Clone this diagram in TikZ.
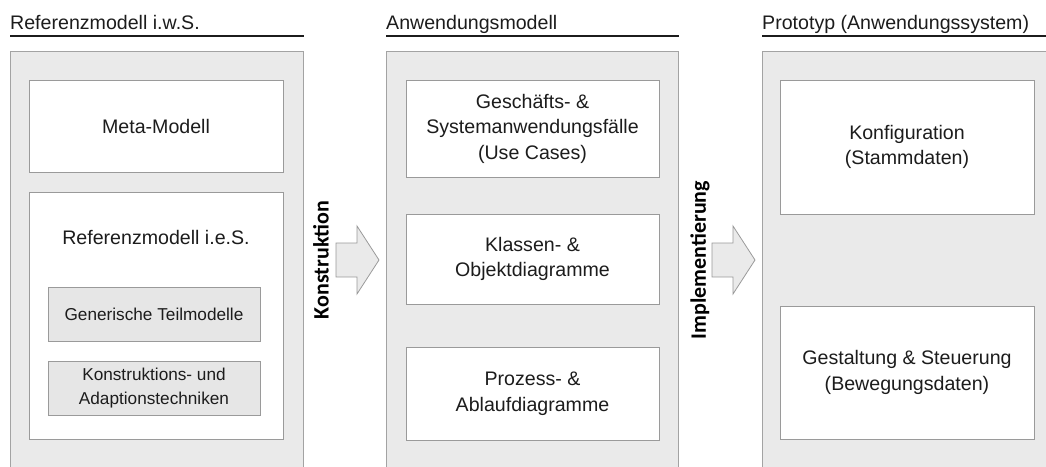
\documentclass[tikz,border=0pt]{standalone}
\usepackage{fontspec}
\setmainfont{Liberation Sans}
\newfontfamily\phasefont{Carlito}

\definecolor{panelgray}{HTML}{EAEAEA}
\definecolor{subgray}{HTML}{E6E6E6}
\definecolor{framegray}{HTML}{A3A3A3}
\definecolor{boxframe}{HTML}{9A9A9A}
\definecolor{inktext}{HTML}{1C1C1C}

\begin{document}
\begin{tikzpicture}[
    x=1pt, y=-1pt,
    panel/.style={draw=framegray, fill=panelgray, anchor=north west, inner sep=0pt, line width=0.8pt},
    box/.style={draw=boxframe, fill=white, align=center, inner sep=0pt, text=inktext, line width=0.8pt,
        font=\fontsize{19.6}{25.5}\selectfont},
    subbox/.style={box, fill=subgray, font=\fontsize{17.2}{23.5}\selectfont},
    heading/.style={anchor=base west, inner sep=0pt, text=inktext, font=\fontsize{19.6}{25}\selectfont},
    phase/.style={rotate=90, inner sep=0pt, text=black, font=\phasefont\bfseries\fontsize{22}{24}\selectfont},
    rule/.style={draw=inktext, line width=1.2pt},
    blockarrow/.style={draw=boxframe, fill=panelgray, line width=0.8pt, line join=miter}
]
    \useasboundingbox (0,0) rectangle (1046,466);

    % Panels
    \node[panel, minimum width=293pt, minimum height=440pt] (iws) at (10,51) {};
    \node[panel, minimum width=292pt, minimum height=440pt] (anw) at (386,51) {};
    \node[panel, minimum width=292pt, minimum height=440pt] (proto) at (762,51) {};

    % Headings with rules
    \node[heading] (iwstitle) at (10,29.5) {Referenzmodell i.w.S.};
    \node[heading] (anwtitle) at (386,29.5) {Anwendungsmodell};
    \node[heading] (prototitle) at (762,29.5) {Prototyp (Anwendungssystem)};
    \draw[rule] ([yshift=15pt]iws.north west) -- ([yshift=15pt]iws.north east);
    \draw[rule] ([yshift=15pt]anw.north west) -- ([yshift=15pt]anw.north east);
    \draw[rule] ([yshift=15pt]proto.north west) -- ([yshift=15pt]proto.north east);

    % Referenzmodell i.w.S.
    \node[box, minimum width=254pt, minimum height=92pt] (meta) at (156,126) {Meta-Modell};
    \node[box, minimum width=254pt, minimum height=247pt] (ies) at (156,315.5) {};
    \node[heading, anchor=base] (iestitle) at (156,244) {Referenzmodell i.e.S.};
    \node[subbox, minimum width=212pt, minimum height=54pt] (generic) at (154,314) {Generische Teilmodelle};
    \node[subbox, minimum width=212pt, minimum height=54pt] (techniques) at (154,388) {Konstruktions- und\\Adaptionstechniken};

    % Anwendungsmodell
    \node[box, minimum width=253pt, minimum height=97pt] (usecases) at (532.5,128.5) {Geschäfts- \&\\Systemanwendungsfälle\\(Use Cases)};
    \node[box, minimum width=253pt, minimum height=90pt] (classes) at (532.5,259) {Klassen- \&\\Objektdiagramme};
    \node[box, minimum width=253pt, minimum height=93pt] (processes) at (532.5,393.5) {Prozess- \&\\Ablaufdiagramme};

    % Prototyp
    \node[box, minimum width=254pt, minimum height=134pt] (config) at (907,147) {Konfiguration\\(Stammdaten)};
    \node[box, minimum width=254pt, minimum height=133pt] (control) at (907,372.5) {Gestaltung \& Steuerung\\(Bewegungsdaten)};

    % Phases between the panels
    \node[phase] (construction) at (321,260) {Konstruktion};
    \node[phase] (implementation) at (700,260) {Implementierung};

    \coordinate (conarrow) at (336,260);
    \coordinate (implarrow) at (712,260);
    \draw[blockarrow] (conarrow) ++(0,-17) -- ++(21,0) -- ++(0,-17) -- ++(22,34) -- ++(-22,34) -- ++(0,-17) -- ++(-21,0) -- cycle;
    \draw[blockarrow] (implarrow) ++(0,-17) -- ++(21,0) -- ++(0,-17) -- ++(22,34) -- ++(-22,34) -- ++(0,-17) -- ++(-21,0) -- cycle;

\end{tikzpicture}
\end{document}
